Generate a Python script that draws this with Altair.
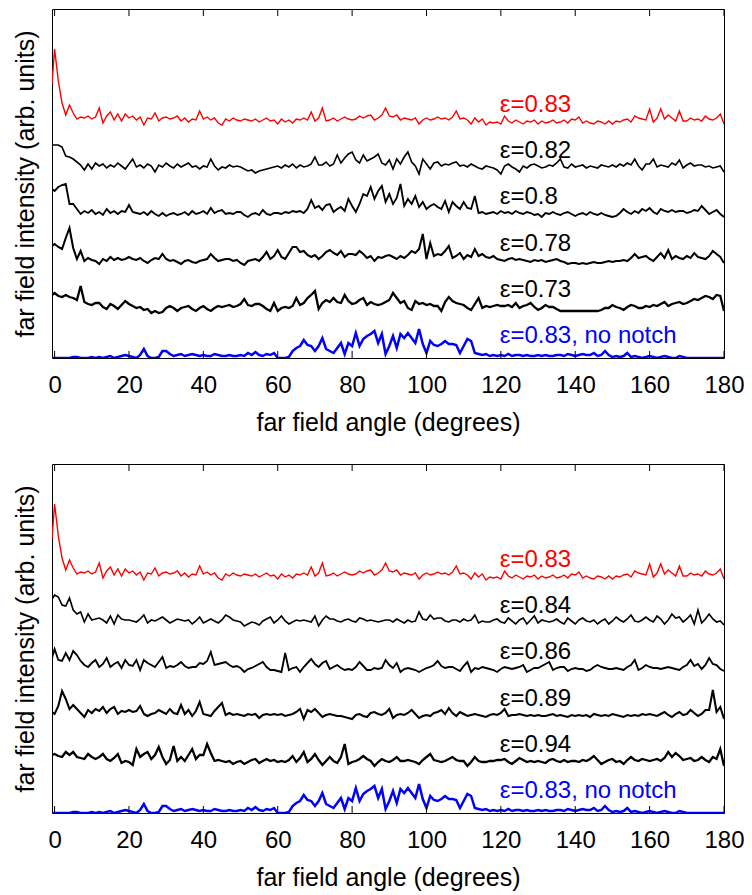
import altair as alt
import pandas as pd

# far-field angle grid (degrees)
angles = [-0.7] + list(range(0, 181))

# intensities (arb. units, above each trace's own baseline); first value at -0.7 deg,
# then one row per 10 degrees, last value at 180 deg
eps083 = [37,
          72, 40, 18, 6, 16, 8, 2, 4, 3, 5,
          2, 4, 13, -2, 5, 9, 1, 7, 0, 7,
          3, 5, 1, 4, -4, 3, 2, 8, 0, 3,
          4, 2, 3, 5, 0, 3, -1, 2, 1, 10,
          2, 4, 1, 3, -2, -4, 2, 0, 3, 1,
          0, 2, 1, 0, 2, -1, 1, 3, 0, 1,
          -3, 2, -1, 1, -2, 2, 1, 3, 1, 9,
          0, 3, 13, 0, 1, 3, 0, 2, 4, 2,
          1, 2, 5, 3, 5, 6, 1, 3, 6, 13,
          5, 4, 6, 1, 3, 2, 1, 3, -3, 1,
          3, 1, 2, 4, 2, 3, 1, 4, 10, 2,
          3, 1, -3, 3, -1, 2, -4, -1, -2, -1,
          -3, 5, 0, -2, 1, -1, -3, 0, -1, 1,
          -3, 0, -2, -1, 1, -2, -1, 1, -2, 2,
          1, 4, -2, 0, -2, -3, 0, -1, -3, 0,
          -3, 0, -1, 1, 2, -1, 5, 3, 2, 1,
          12, -1, 3, 12, 2, 6, 3, 0, 10, 0,
          0, 3, 1, 2, 0, 5, 2, 1, 3, 7,
          -3]
eps082 = [22,
          22, 22, 20, 11, 10, 8, 5, 2, -3, 3,
          -2, 4, 1, 3, -1, 2, 0, 4, 1, -2,
          3, 8, 0, 2, -1, 3, 1, -5, 2, 0,
          4, 1, -1, 3, 0, 2, 4, 0, 1, -2,
          1, 0, 8, 1, -3, 0, -1, 2, 0, 1,
          0, -2, -4, -3, -6, -4, -3, -2, -1, 0,
          1, -1, 2, 0, 3, -1, 2, 0, 1, 3,
          10, 2, 2, 5, 1, 3, 12, 4, 9, 13,
          15, 7, 4, 12, 6, 8, 10, 13, 4, 2,
          7, -2, 8, 3, 10, 15, 5, 1, -7, 8,
          3, -2, 4, 5, 1, 3, 2, 4, 5, 1,
          2, 0, 3, 1, -1, -2, 1, 0, -1, -3,
          -7, 1, 3, 0, -2, -5, 1, -1, 2, 3,
          1, -1, 0, 2, 1, 4, 8, 0, -1, 3,
          0, 1, 2, -1, 1, 0, -1, 2, 1, 0,
          2, 0, 3, 1, 4, 2, 8, 1, -3, 3,
          3, 8, 0, 2, 1, 0, 4, 2, 7, -1,
          2, 4, 1, 2, 2, 0, 1, -1, 0, 1,
          -5]
eps080 = [25,
          23, 27, 29, 30, 10, 10, 5, 0, 3, 1,
          4, 0, 2, -1, 5, 1, 3, 0, 3, 2,
          9, 2, 1, 0, 2, -1, 3, 0, -2, 1,
          -2, 0, 1, -1, 0, 2, -1, 3, 0, 1,
          3, 0, 6, 1, 3, 4, 0, 1, 0, 2,
          2, -1, -3, 0, 1, -1, 4, 0, -1, 1,
          1, 0, 2, 1, 3, 2, 3, 1, 5, 14,
          6, 8, 4, 9, 10, 2, 5, 7, 3, 15,
          8, 2, 10, 20, 18, 27, 15, 23, 28, 12,
          20, 10, 16, 30, 8, 15, 10, 18, 7, 12,
          5, 8, 10, 7, 5, 13, 2, 12, 8, 5,
          12, 6, 5, 18, 1, 2, 0, 1, 2, 0,
          3, 1, 2, 0, 3, 1, 0, 2, 1, -1,
          0, -3, 1, 0, 2, 0, -1, 1, 2, 0,
          -2, 0, 1, -1, 2, 0, -1, 1, -1, -2,
          -3, -2, 1, 5, 2, 0, 3, 1, 5, 3,
          6, 2, 0, 5, 3, 2, 4, 2, 3, 3,
          1, 2, 4, 3, 8, 4, 0, 2, 4, 0,
          -3]
eps078 = [15,
          17, 14, 12, 23, 33, 13, 2, 10, 0, 3,
          1, 0, -3, 2, 0, 4, 1, 3, 1, 2,
          4, 2, 1, 3, 0, -2, 1, 3, 2, 7,
          2, 0, 1, -1, -3, 0, 1, -1, -2, 0,
          1, 2, 7, 3, 0, 1, 2, 2, 0, 1,
          -2, -4, 0, 1, 2, 0, 4, 9, 2, 5,
          11, 4, 2, 8, 14, 14, 9, 10, 6, 4,
          6, 2, 5, 9, 11, 8, 6, 10, 4, 7,
          7, 6, 10, 7, 3, 5, 0, 4, 3, 5,
          6, 4, 2, 5, 3, 6, 10, 8, 12, 27,
          2, 18, 5, 7, 6, 10, 15, 3, 5, 8,
          2, 6, 4, 12, 5, 7, 4, 3, 5, 2,
          1, 0, 2, 3, 1, 2, 1, 0, -1, 1,
          0, 1, -1, 0, 1, 2, 0, -1, -3, -2,
          -2, -3, -2, -3, -2, -1, -2, -2, -1, 0,
          -1, 0, 0, 1, 0, 3, 7, 3, 4, 5,
          2, 0, 4, 8, 3, 11, 2, 5, 3, 2,
          5, 3, 8, 4, 3, 2, 5, 10, 7, 4,
          -2]
eps073 = [13,
          15, 12, 11, 13, 11, 10, 8, 22, 6, 4,
          3, 5, 5, 1, -1, 4, 2, -1, 3, 7,
          4, 2, 0, 1, -2, -1, -5, -3, -5, -4,
          0, 2, 0, -3, 0, 1, 2, -1, -3, 0,
          2, -1, -3, 0, 2, 1, 2, 3, 1, 2,
          4, 9, 3, 2, 4, 4, 2, -1, -3, 5,
          -3, 0, 1, 0, 2, 10, 3, 5, 10, 13,
          17, -1, 5, 8, 6, 10, 6, 5, 13, 7,
          4, 5, 8, 10, 3, 6, 4, 3, 4, 6,
          8, 15, 10, 5, 7, 0, -2, 7, 4, 5,
          3, 4, 2, 2, -3, 6, 11, 7, 5, 4,
          3, 0, -2, 4, 10, 0, 2, 1, 2, 3,
          2, 2, 3, 1, 5, 0, 2, 3, 5, 1,
          -2, 0, 3, 1, 1, -1, -3, -3, -3, -3,
          -3, -3, -3, -3, -3, -3, -3, -2, 0, 0,
          3, 1, 0, -2, 1, 3, 2, 0, 0, 2,
          1, 3, 2, 4, 6, 2, 4, 5, 6, 4,
          5, 7, 9, 8, 10, 12, 11, 9, 13, 12,
          -3]
no_notch = [0,
            0, 0, 0, 0, 0, 1, 1, 0, 0, 0,
            1, 0, 1, 0, 1, 2, 0, 1, 2, 3,
            2, 1, 0, 3, 9, 2, 0, 0, 1, 7,
            7, 4, 2, 3, 4, 2, 3, 4, 3, 2,
            3, 2, 2, 4, 3, 2, 2, 3, 2, 2,
            3, 2, 5, 3, 6, 3, 2, 4, 3, 5,
            0, 0, 0, 1, 7, 10, 12, 18, 13, 12,
            7, 12, 20, 9, 7, 5, 10, 15, 4, 15,
            12, 25, 12, 19, 22, 24, 27, 15, 24, 4,
            12, 22, 10, 24, 20, 25, 20, 15, 29, 14,
            5, 17, 13, 12, 14, 17, 14, 14, 13, 5,
            12, 19, 17, 5, 4, 3, 4, 2, 3, 2,
            3, 2, 4, 2, 3, 3, 2, 3, 2, 2,
            3, 2, 3, 2, 2, 3, 3, 2, 4, 3,
            2, 3, 4, 3, 3, 5, 2, 3, 7, 3,
            1, 2, 1, 2, 5, 1, 2, 1, 0, 1,
            2, 1, 0, 1, 2, 1, 0, 0, 2, 1,
            0, 0, 0, 0, 0, 0, 0, 0, 0, 0,
            0]
eps084 = [23,
          27, 25, 17, 16, 24, 12, 8, 10, 0, 8,
          2, 3, 4, 2, -1, 6, -2, 7, 3, 2,
          2, 1, 0, 3, 7, -1, 2, 1, 3, 5,
          2, -1, 1, 3, 2, 1, 2, -2, 1, 5,
          -1, 1, 3, 1, -1, 2, 7, 5, 2, 1,
          0, -4, -2, 0, -1, -3, 1, 3, 5, -1,
          2, 6, 1, -2, 0, 2, 1, 2, 1, 0,
          6, -4, 2, 6, 3, 3, 1, 0, 2, 3,
          1, 0, 4, 3, 1, 2, 1, 0, 1, 2,
          2, 0, 3, 1, -1, 2, 0, 1, 10, 3,
          2, 7, 3, 4, 4, 1, 0, 2, 2, 0,
          3, 1, 2, 7, -1, 1, 0, 0, 2, 3,
          0, -1, 4, 1, -2, 2, 4, -2, 2, 6,
          -1, 2, 1, 0, 1, 3, 0, -2, 4, 1,
          -2, 2, 4, 1, 0, 2, -2, 1, 3, -2,
          1, 5, 2, 0, 3, 7, 1, 0, 2, 5,
          2, 0, 6, 3, -2, 2, 8, 4, 5, 0,
          3, 7, -2, 12, -1, 3, 8, 3, 0, 1,
          -3]
eps086 = [11,
          20, 9, 8, 16, 9, 18, 14, 8, 4, 2,
          6, 9, 2, 5, 11, 2, 5, 7, 1, 9,
          4, 3, 9, -1, 9, 6, 4, 2, 7, 12,
          1, 3, 2, 4, 7, 3, 1, 2, 2, 6,
          5, 8, 17, 4, 5, 6, 7, 4, 2, 3,
          1, -3, 0, 1, 3, 5, 7, 2, -1, -1,
          -2, -3, 16, -1, 1, 2, -3, 2, 6, 10,
          5, 2, 6, 8, 0, 2, 4, 1, -1, 0,
          -1, 2, 7, 3, -1, -1, 1, 0, 1, 9,
          4, 1, 6, -3, 0, 1, 0, -1, -3, -1,
          1, 2, 4, 8, 3, 1, 2, 2, 0, -2,
          3, 7, -3, 1, 0, 2, 1, 0, -1, -3,
          0, 2, 1, 0, 1, 2, 4, -3, -1, 1,
          1, 3, 5, 7, -1, 1, 2, 2, -2, 0,
          1, 0, 0, -2, -1, 2, 4, 2, 1, 0,
          0, 1, 0, -1, 2, 4, 9, -1, 1, 4,
          2, 1, 1, 0, 1, 2, 1, 0, -1, 2,
          4, 9, 3, 5, 0, 4, 11, 5, 4, 0,
          -2]
eps089 = [4,
          2, 10, 25, 17, 7, 11, 7, 3, -1, 6,
          3, 7, 5, 9, 3, 7, 9, 2, 5, 4,
          6, 4, 5, 10, 2, 0, 2, 3, 6, 4,
          2, 7, 3, 2, 11, 2, 6, 0, 5, 14,
          2, 1, 0, 5, 9, 13, 1, 3, 1, 2,
          1, 0, 2, 1, 2, -2, 1, 2, 1, 2,
          1, 2, 0, 1, 2, 4, 7, -3, 6, 4,
          7, 3, -1, 1, 2, 1, 0, 0, -1, -2,
          -3, 1, 2, 0, -1, 3, 4, 2, 1, 3,
          7, -2, 1, 2, 1, 3, 6, 2, -2, 0,
          1, 0, 3, 4, 6, 2, 8, 3, 0, 4,
          2, 0, 1, 2, 1, 0, -1, 1, 2, 1,
          3, 7, 0, 1, 1, 2, 1, 0, 1, 0,
          1, 0, 0, 1, 2, 0, 1, 0, -1, 1,
          0, 1, 0, 1, -1, 2, 1, 0, 1, 0,
          2, 1, 0, -1, 1, 0, 1, 0, 2, 1,
          2, 1, 0, 2, 4, 1, -1, 2, 4, 1,
          2, 6, 3, 0, 2, 6, 6, 26, 4, 9,
          -3]
eps094 = [8,
          9, 7, 6, 11, 8, 11, 6, 5, 4, 9,
          6, 4, 6, 9, 4, 2, 5, 9, 0, 2,
          1, -2, 14, 6, 9, 11, 4, 8, 16, 6,
          -1, 3, 17, 2, 6, 2, 8, 14, 4, 8,
          8, 19, 10, 2, 3, 2, 1, 2, -1, 1,
          2, -1, 1, 3, 4, 0, 2, 4, 2, 3,
          1, 2, 1, 3, 7, 1, 5, 11, 1, 4,
          9, 3, -2, 2, 6, 2, 0, 6, 19, -1,
          1, 2, 4, 7, 4, 2, -3, 1, 4, 2,
          1, 3, 6, 2, 2, 3, 2, 1, -1, 3,
          6, 9, 3, 2, 1, 2, 4, 6, 3, 2,
          2, -3, 1, 6, 2, 1, 1, 2, 2, 3,
          3, 4, 1, -1, 2, 5, 3, 1, 2, 1,
          2, 1, 0, 3, 4, 2, 1, 3, 1, 2,
          2, 1, 3, 2, 4, 7, 3, -1, 1, 3,
          4, 1, 2, -1, 3, 6, 3, 2, 4, 3,
          2, 3, 4, 2, 5, 11, 6, 10, 7, 3,
          4, 5, 2, 3, 6, 3, 1, 6, 4, 14,
          -3]

top_labels = ["ε=0.83", "ε=0.82", "ε=0.8", "ε=0.78", "ε=0.73", "ε=0.83, no notch"]
top_series = [eps083, eps082, eps080, eps078, eps073, no_notch]
bottom_labels = ["ε=0.83", "ε=0.84", "ε=0.86", "ε=0.89", "ε=0.94", "ε=0.83, no notch"]
bottom_series = [eps083, eps084, eps086, eps089, eps094, no_notch]
offsets = [237, 191, 144, 97, 50, 0]
tick_values = [0, 20, 40, 60, 80, 100, 120, 140, 160, 180]

for s in top_series + bottom_series:
    assert len(s) == len(angles), len(s)

# styling
FONT = "Liberation Sans"
colors = ["#ff0000", "#000000", "#000000", "#000000", "#000000", "#0000ff"]
widths = [1.4, 2.5, 2.5, 2.5, 2.5, 1.3]
label_lift = [9, 9, 10, 10, 11, 15]
LABEL_ANGLE = 119.7
W, H = 672, 349
XDOM = [-0.7, 180]
YDOM = [0, 349]
keys = [f"s{i}" for i in range(6)]

x_axis = alt.Axis(title="far field angle (degrees)", values=tick_values, format="d",
                  labelFlush=False, labelOverlap=False, ticks=False, domain=False,
                  grid=False, labelPadding=15, titlePadding=13)
y_axis = alt.Axis(title="far field intensity (arb. units)", labels=False, ticks=False,
                  domain=False, grid=False, titlePadding=14)


def make_panel(names, series):
    rows = []
    for i, vals in enumerate(series):
        for a, v in zip(angles, vals):
            rows.append({"key": keys[i], "angle": a, "y": offsets[i] + v})
    df = pd.DataFrame(rows)
    xsc = alt.Scale(domain=XDOM, nice=False, zero=False)
    ysc = alt.Scale(domain=YDOM, nice=False, zero=False)
    csc = alt.Scale(domain=keys, range=colors)

    lines = alt.Chart(df).mark_line(clip=True).encode(
        x=alt.X("angle:Q", scale=xsc, axis=x_axis),
        y=alt.Y("y:Q", scale=ysc, axis=y_axis),
        color=alt.Color("key:N", scale=csc, legend=None),
        strokeWidth=alt.StrokeWidth("key:N", scale=alt.Scale(domain=keys, range=widths),
                                    legend=None),
    )

    lab_df = pd.DataFrame({
        "key": keys,
        "text": names,
        "angle": [LABEL_ANGLE] * 6,
        "y": [offsets[i] + label_lift[i] for i in range(6)],
    })
    texts = alt.Chart(lab_df).mark_text(
        align="left", baseline="alphabetic", font=FONT, fontSize=24
    ).encode(
        x=alt.X("angle:Q", scale=xsc, axis=x_axis),
        y=alt.Y("y:Q", scale=ysc, axis=y_axis),
        text="text:N",
        color=alt.Color("key:N", scale=csc, legend=None),
    )

    tick_df = pd.DataFrame({"angle": tick_values})
    top_ticks = alt.Chart(tick_df).mark_rule(color="black", strokeWidth=1).encode(
        x=alt.X("angle:Q", scale=xsc, axis=x_axis), y=alt.value(0), y2=alt.value(7))
    bot_ticks = alt.Chart(tick_df).mark_rule(color="black", strokeWidth=1).encode(
        x=alt.X("angle:Q", scale=xsc, axis=x_axis), y=alt.value(H), y2=alt.value(H - 7))

    return alt.layer(lines, texts, top_ticks, bot_ticks).properties(width=W, height=H)


chart = alt.vconcat(
    make_panel(top_labels, top_series),
    make_panel(bottom_labels, bottom_series),
    spacing=27,
).properties(
    padding={"left": 12, "top": 8, "right": 0, "bottom": 0},
    background="white",
).configure_view(
    stroke="black", strokeWidth=1
).configure_axis(
    labelFont=FONT, titleFont=FONT, labelFontSize=24, titleFontSize=25,
    titleFontWeight="normal", labelColor="black", titleColor="black",
)

chart.save("out.html", embed_options={"renderer": "svg", "actions": False})
